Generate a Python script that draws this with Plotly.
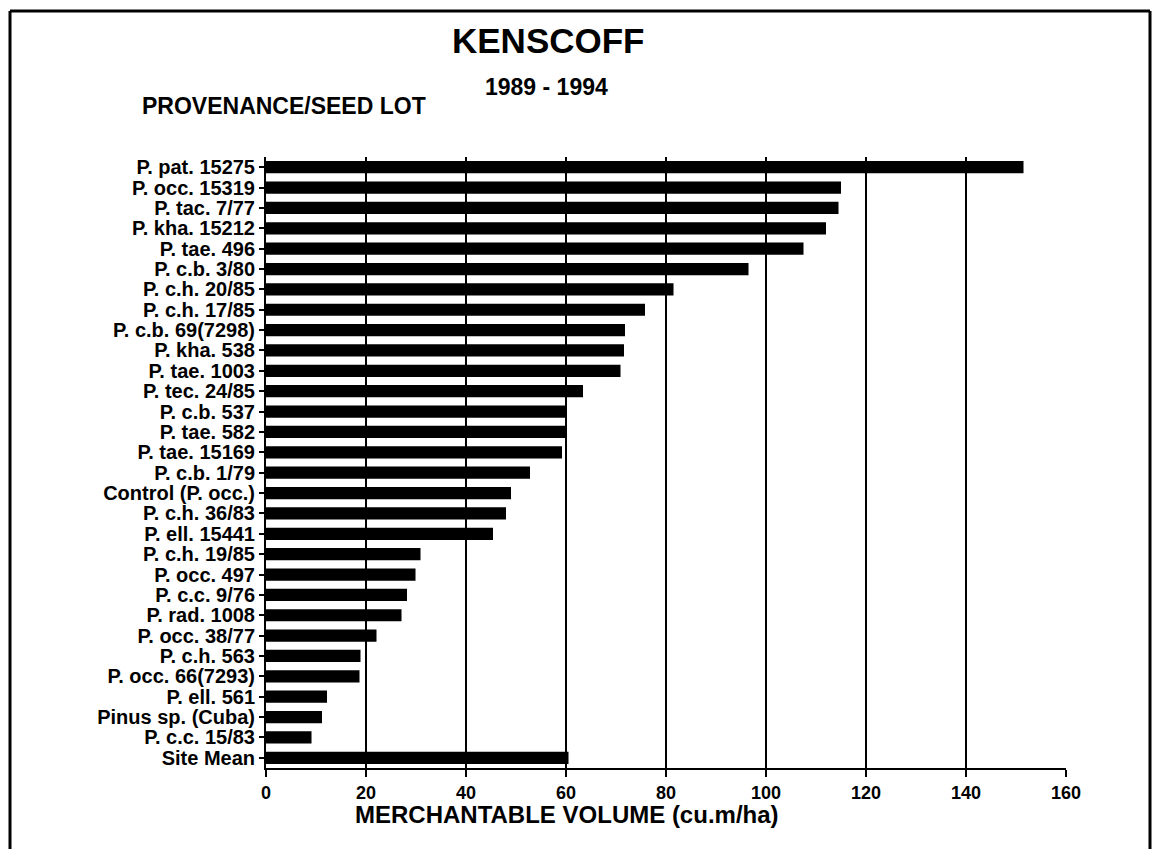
import plotly.graph_objects as go

categories = [
    "P. pat. 15275", "P. occ. 15319", "P. tac. 7/77", "P. kha. 15212", "P. tae. 496",
    "P. c.b. 3/80", "P. c.h. 20/85", "P. c.h. 17/85", "P. c.b. 69(7298)", "P. kha. 538",
    "P. tae. 1003", "P. tec. 24/85", "P. c.b. 537", "P. tae. 582", "P. tae. 15169",
    "P. c.b. 1/79", "Control (P. occ.)", "P. c.h. 36/83", "P. ell. 15441", "P. c.h. 19/85",
    "P. occ. 497", "P. c.c. 9/76", "P. rad. 1008", "P. occ. 38/77", "P. c.h. 563",
    "P. occ. 66(7293)", "P. ell. 561", "Pinus sp. (Cuba)", "P. c.c. 15/83", "Site Mean",
]
volumes = [
    151.5, 115.0, 114.5, 112.0, 107.5,
    96.5, 81.5, 75.8, 71.8, 71.6,
    70.9, 63.4, 60.0, 60.1, 59.2,
    52.8, 49.0, 48.0, 45.4, 30.9,
    29.9, 28.2, 27.1, 22.1, 18.9,
    18.7, 12.2, 11.2, 9.1, 60.5,
]
x_ticks = [0, 20, 40, 60, 80, 100, 120, 140, 160]

title_text = "KENSCOFF"
subtitle_text = "1989 - 1994"
ylabel_text = "PROVENANCE/SEED LOT"
xlabel_text = "MERCHANTABLE VOLUME (cu.m/ha)"

FONT = "Liberation Sans, Arial, sans-serif"

fig = go.Figure()
fig.add_trace(go.Bar(
    x=volumes, y=categories, orientation="h",
    marker=dict(color="black", line=dict(width=0)),
    width=0.6,
))

OFF = 8  # page body margin
FW, FH = 1160 - 2 * OFF, 857 - 2 * OFF
L, T, W, H = 266 - OFF, 157 - OFF, 800, 611
def px(x):
    return (x - OFF - L) / W
def py(y):
    return (T + H - (y - OFF)) / H

fig.update_layout(
    width=FW, height=FH,
    margin=dict(l=L, r=FW - L - W, t=T, b=FH - T - H, autoexpand=False),
    paper_bgcolor="white", plot_bgcolor="white",
    showlegend=False,
    xaxis=dict(
        range=[0, 160], tickmode="array", tickvals=x_ticks, ticktext=[str(v) for v in x_ticks],
        showgrid=True, gridcolor="black", gridwidth=2,
        showline=True, linecolor="black", linewidth=2,
        ticks="outside", ticklen=7, tickwidth=2, tickcolor="black",
        tickfont=dict(family=FONT, size=18, color="black", weight="bold"),
        zeroline=False,
    ),
    yaxis=dict(
        categoryorder="array", categoryarray=categories[::-1],
        tickmode="array", tickvals=categories, ticktext=categories,
        range=[-0.5, len(categories) - 0.5],
        showgrid=False,
        showline=True, linecolor="black", linewidth=2,
        ticks="outside", ticklen=5, tickwidth=1.5, tickcolor="black",
        tickfont=dict(family=FONT, size=20, color="black", weight="bold"),
        zeroline=False,
    ),
    font=dict(family=FONT, color="black"),
)

annotations = [
    dict(text=title_text, x=px(548), y=py(40), font=dict(family=FONT, size=35, color="black", weight="bold")),
    dict(text=subtitle_text, x=px(546), y=py(87), font=dict(family=FONT, size=23, color="black", weight="bold")),
    dict(text=xlabel_text, x=px(567), y=py(814), font=dict(family=FONT, size=24, color="black", weight="bold")),
]
for a in annotations:
    fig.add_annotation(xref="paper", yref="paper", xanchor="center", yanchor="middle",
                       showarrow=False, **a)
fig.add_annotation(xref="paper", yref="paper", x=px(140), y=py(106), xanchor="left", yanchor="middle",
                   showarrow=False, text=ylabel_text,
                   font=dict(family=FONT, size=23, color="black", weight="bold"))

# outer frame of the figure (kept inside the drawable page area)
fl, ft, fr, fb = 10, 11, 1150, 860
for x0, y0, x1, y1 in [(fl, ft, fr, ft), (fl, ft, fl, fb), (fr, ft, fr, fb)]:
    fig.add_shape(type="line", xref="paper", yref="paper",
                  x0=px(x0), y0=py(y0), x1=px(x1), y1=py(y1),
                  line=dict(color="black", width=3))

fig.write_html("out.html")
